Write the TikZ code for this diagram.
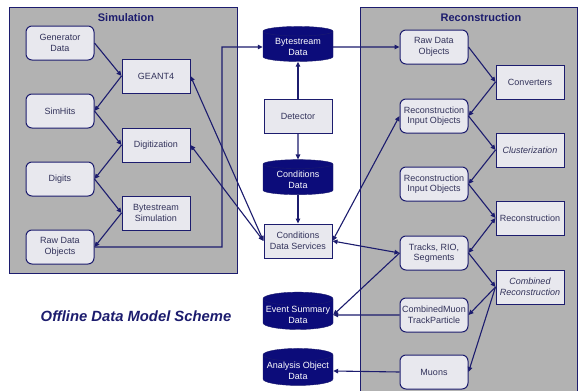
\documentclass[tikz,border=0pt]{standalone}
\usepackage{fontspec}
\setmainfont{Liberation Sans}
\usetikzlibrary{shapes.geometric,arrows.meta}
\definecolor{navy}{RGB}{28,28,110}
\definecolor{panelgray}{RGB}{178,178,178}
\definecolor{boxfill}{RGB}{232,232,238}
\definecolor{txt}{RGB}{50,50,90}
\definecolor{cylfill}{RGB}{12,12,122}
\begin{document}
\begin{tikzpicture}[x=1pt,y=-1pt,
 panel/.style={draw=navy,fill=panelgray,line width=1pt},
 boxbase/.style={draw=navy,fill=boxfill,line width=1pt,minimum width=68pt,minimum height=34pt,align=center,font=\fontsize{9}{10.5}\selectfont,text=txt,inner sep=1pt},
 rbox/.style={boxbase,rounded corners=6pt},
 sbox/.style={boxbase},
 db/.style={cylinder,shape border rotate=90,aspect=0.2,draw=navy,fill=cylfill,text=white,minimum width=70pt,minimum height=35pt,align=center,font=\fontsize{9}{10.5}\selectfont,inner sep=1pt},
 arr/.style={draw=navy,line width=1.1pt,-{Triangle[length=5pt,width=4.5pt]}},
 darr/.style={draw=navy,line width=1.1pt,{Triangle[length=5pt,width=4.5pt]}-{Triangle[length=5pt,width=4.5pt]}},
 ttl/.style={text=navy,font=\fontsize{11}{13}\selectfont\bfseries}
]
\useasboundingbox (0,0) rectangle (584,391);
\fill[white] (0,0) rectangle (584,391);
% panels
\draw[panel] (9,7) rectangle (237,273);
\draw[panel] (360,7) rectangle (577,400);
\node[ttl] (simt) at (126,18) {Simulation};
\node[ttl] (rect) at (481,18) {Reconstruction};
% simulation nodes
\node[rbox] (gen) at (60,43) {Generator\\Data};
\node[sbox] (geant) at (156,76) {GEANT4};
\node[rbox] (simhits) at (60,111) {SimHits};
\node[sbox] (digi) at (156,145) {Digitization};
\node[rbox] (digits) at (60,179) {Digits};
\node[sbox] (bsim) at (156,213) {Bytestream\\Simulation};
\node[rbox] (rawsim) at (60,247) {Raw Data\\Objects};
% center
\node[db] (bsdata) at (298,47) {Bytestream\\Data};
\node[sbox] (det) at (298,116) {Detector};
\node[db] (conddata) at (298,180) {Conditions\\Data};
\node[sbox] (cds) at (298,241) {Conditions\\Data Services};
\node[db] (esd) at (298,315) {Event Summary\\Data};
\node[db] (aod) at (298,371) {Analysis Object\\Data};
% reconstruction
\node[rbox] (rawrec) at (434,47) {Raw Data\\Objects};
\node[sbox] (conv) at (530,82) {Converters};
\node[rbox] (rio1) at (434,116) {Reconstruction\\Input Objects};
\node[sbox] (clus) at (530,150) {\itshape Clusterization};
\node[rbox] (rio2) at (434,184) {Reconstruction\\Input Objects};
\node[sbox] (reco) at (530,218) {Reconstruction};
\node[rbox] (tracks) at (434,253) {Tracks, RIO,\\Segments};
\node[sbox] (comb) at (530,287) {\itshape Combined\\\itshape Reconstruction};
\node[rbox] (cmtp) at (434,315) {CombinedMuon\\TrackParticle};
\node[rbox] (muons) at (434,372) {Muons};
% title
\node[text=navy,font=\fontsize{14.8}{17}\selectfont\bfseries\itshape] (scheme) at (136,316) {Offline Data Model Scheme};
% simulation arrows
\draw[arr] (gen.east) -- (geant.west);
\draw[arr] (geant.west) -- (simhits.east);
\draw[arr] (simhits.east) -- (digi.west);
\draw[arr] (digi.west) -- (digits.east);
\draw[arr] (digits.east) -- (bsim.west);
\draw[arr] (bsim.west) -- (rawsim.east);
\coordinate (c1) at (222,247);
\coordinate (c2) at (222,47);
\draw[arr] (rawsim.east) -- (c1) -- (c2) -- (bsdata.west);
\draw[darr] (geant.east) -- (cds.west);
\draw[darr] (digi.east) -- (cds.west);
% center arrows
\draw[arr] (det) -- (bsdata);
\draw[arr] (det) -- (conddata);
\draw[arr] (conddata) -- (cds);
\draw[arr] (bsdata.east) -- (rawrec.west);
\draw[darr] (rio1.west) -- (cds.east);
\draw[darr] (tracks.west) -- (cds.east);
\draw[arr] (tracks.west) -- (esd.east);
\draw[arr] (cmtp.west) -- (esd.east);
\draw[arr] (muons.west) -- (aod.east);
% reconstruction arrows
\draw[arr] (rawrec.east) -- (conv.west);
\draw[arr] (conv.west) -- (rio1.east);
\draw[arr] (rio1.east) -- (clus.west);
\draw[arr] (clus.west) -- (rio2.east);
\draw[arr] (rio2.east) -- (reco.west);
\draw[darr] (reco.west) -- (tracks.east);
\draw[arr] (tracks.east) -- (comb.west);
\draw[arr] (comb.west) -- (cmtp.east);
\draw[arr] (comb.west) -- (muons.east);
\end{tikzpicture}
\end{document}
